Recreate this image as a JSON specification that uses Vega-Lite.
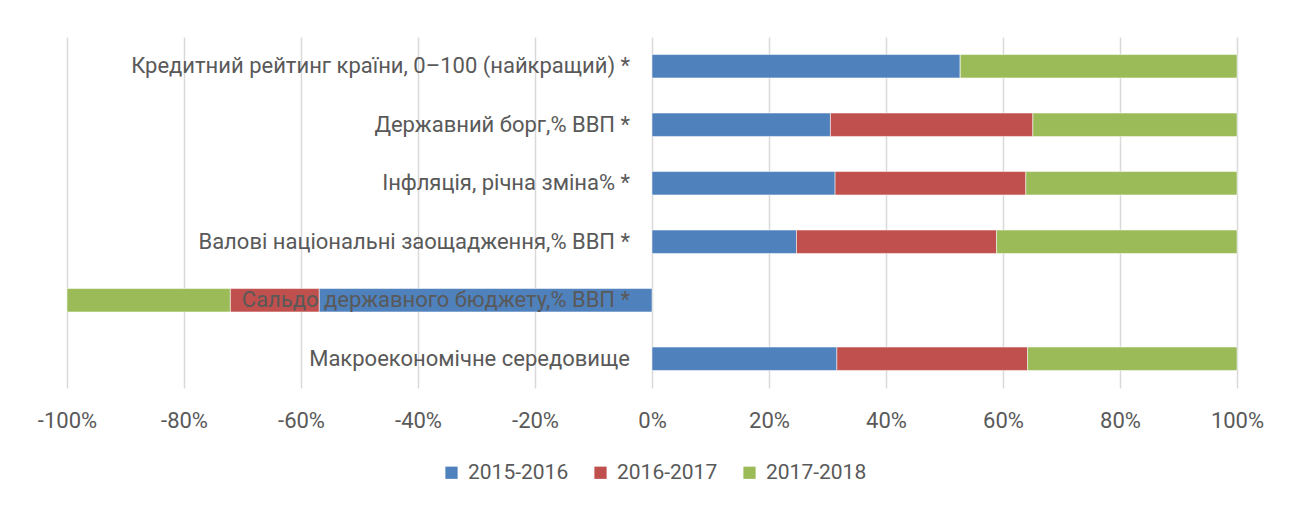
{
  "$schema": "https://vega.github.io/schema/vega-lite/v6.json",
  "autosize": {"type": "none"},
  "width": 1170,
  "height": 351,
  "padding": {"left": 67, "top": 37, "right": 62, "bottom": 118},
  "background": "white",
  "config": {
    "view": {"stroke": null},
    "font": "Roboto, sans-serif"
  },
  "data": {
    "values": [
      {"cat": "Кредитний рейтинг країни, 0–100 (найкращий) *", "period": "2015-2016", "ord": 1, "v": 0.527},
      {"cat": "Кредитний рейтинг країни, 0–100 (найкращий) *", "period": "2016-2017", "ord": 2, "v": 0.0},
      {"cat": "Кредитний рейтинг країни, 0–100 (найкращий) *", "period": "2017-2018", "ord": 3, "v": 0.473},
      {"cat": "Державний борг,% ВВП *", "period": "2015-2016", "ord": 1, "v": 0.305},
      {"cat": "Державний борг,% ВВП *", "period": "2016-2017", "ord": 2, "v": 0.346},
      {"cat": "Державний борг,% ВВП *", "period": "2017-2018", "ord": 3, "v": 0.349},
      {"cat": "Інфляція, річна зміна% *", "period": "2015-2016", "ord": 1, "v": 0.313},
      {"cat": "Інфляція, річна зміна% *", "period": "2016-2017", "ord": 2, "v": 0.326},
      {"cat": "Інфляція, річна зміна% *", "period": "2017-2018", "ord": 3, "v": 0.361},
      {"cat": "Валові національні заощадження,% ВВП *", "period": "2015-2016", "ord": 1, "v": 0.247},
      {"cat": "Валові національні заощадження,% ВВП *", "period": "2016-2017", "ord": 2, "v": 0.342},
      {"cat": "Валові національні заощадження,% ВВП *", "period": "2017-2018", "ord": 3, "v": 0.411},
      {"cat": "Сальдо державного бюджету,% ВВП *", "period": "2015-2016", "ord": 1, "v": -0.569},
      {"cat": "Сальдо державного бюджету,% ВВП *", "period": "2016-2017", "ord": 2, "v": -0.152},
      {"cat": "Сальдо державного бюджету,% ВВП *", "period": "2017-2018", "ord": 3, "v": -0.279},
      {"cat": "Макроекономічне середовище", "period": "2015-2016", "ord": 1, "v": 0.316},
      {"cat": "Макроекономічне середовище", "period": "2016-2017", "ord": 2, "v": 0.326},
      {"cat": "Макроекономічне середовище", "period": "2017-2018", "ord": 3, "v": 0.358}
    ]
  },
  "encoding": {
    "y": {
      "field": "cat",
      "type": "nominal",
      "sort": null,
      "axis": null,
      "scale": {"paddingInner": 0.6, "paddingOuter": 0.3}
    }
  },
  "layer": [
    {
      "mark": {"type": "bar", "stroke": "white", "strokeWidth": 0.5},
      "encoding": {
        "x": {
          "field": "v",
          "type": "quantitative",
          "stack": "zero",
          "scale": {"domain": [-1, 1], "nice": false, "zero": false},
          "axis": {
            "title": null,
            "values": [-1, -0.8, -0.6, -0.4, -0.2, 0, 0.2, 0.4, 0.6, 0.8, 1],
            "labelExpr": "replace(format(datum.value, '.0%'), '−', '-')",
            "labelFlush": false,
            "grid": true,
            "gridColor": "#d9d9d9",
            "gridWidth": 1.5,
            "domain": false,
            "ticks": false,
            "labelFontSize": 22,
            "labelColor": "#595959",
            "labelPadding": 22
          }
        },
        "color": {
          "field": "period",
          "type": "nominal",
          "scale": {
            "domain": ["2015-2016", "2016-2017", "2017-2018"],
            "range": ["#4f81bd", "#c0504d", "#9bbb59"]
          },
          "legend": {
            "title": null,
            "orient": "none",
            "legendX": 374,
            "legendY": 425,
            "direction": "horizontal",
            "symbolType": "square",
            "symbolSize": 150,
            "symbolStrokeWidth": 0,
            "labelFontSize": 21,
            "labelColor": "#595959",
            "labelOffset": 6,
            "columnPadding": 21
          }
        },
        "order": {"field": "ord", "type": "quantitative"}
      }
    },
    {
      "mark": {"type": "text", "align": "right", "baseline": "middle", "dx": -22, "fontSize": 22, "color": "#595959"},
      "transform": [{"filter": "datum.ord == 1"}],
      "encoding": {
        "x": {"datum": 0, "type": "quantitative"},
        "text": {"field": "cat"}
      }
    }
  ]
}
